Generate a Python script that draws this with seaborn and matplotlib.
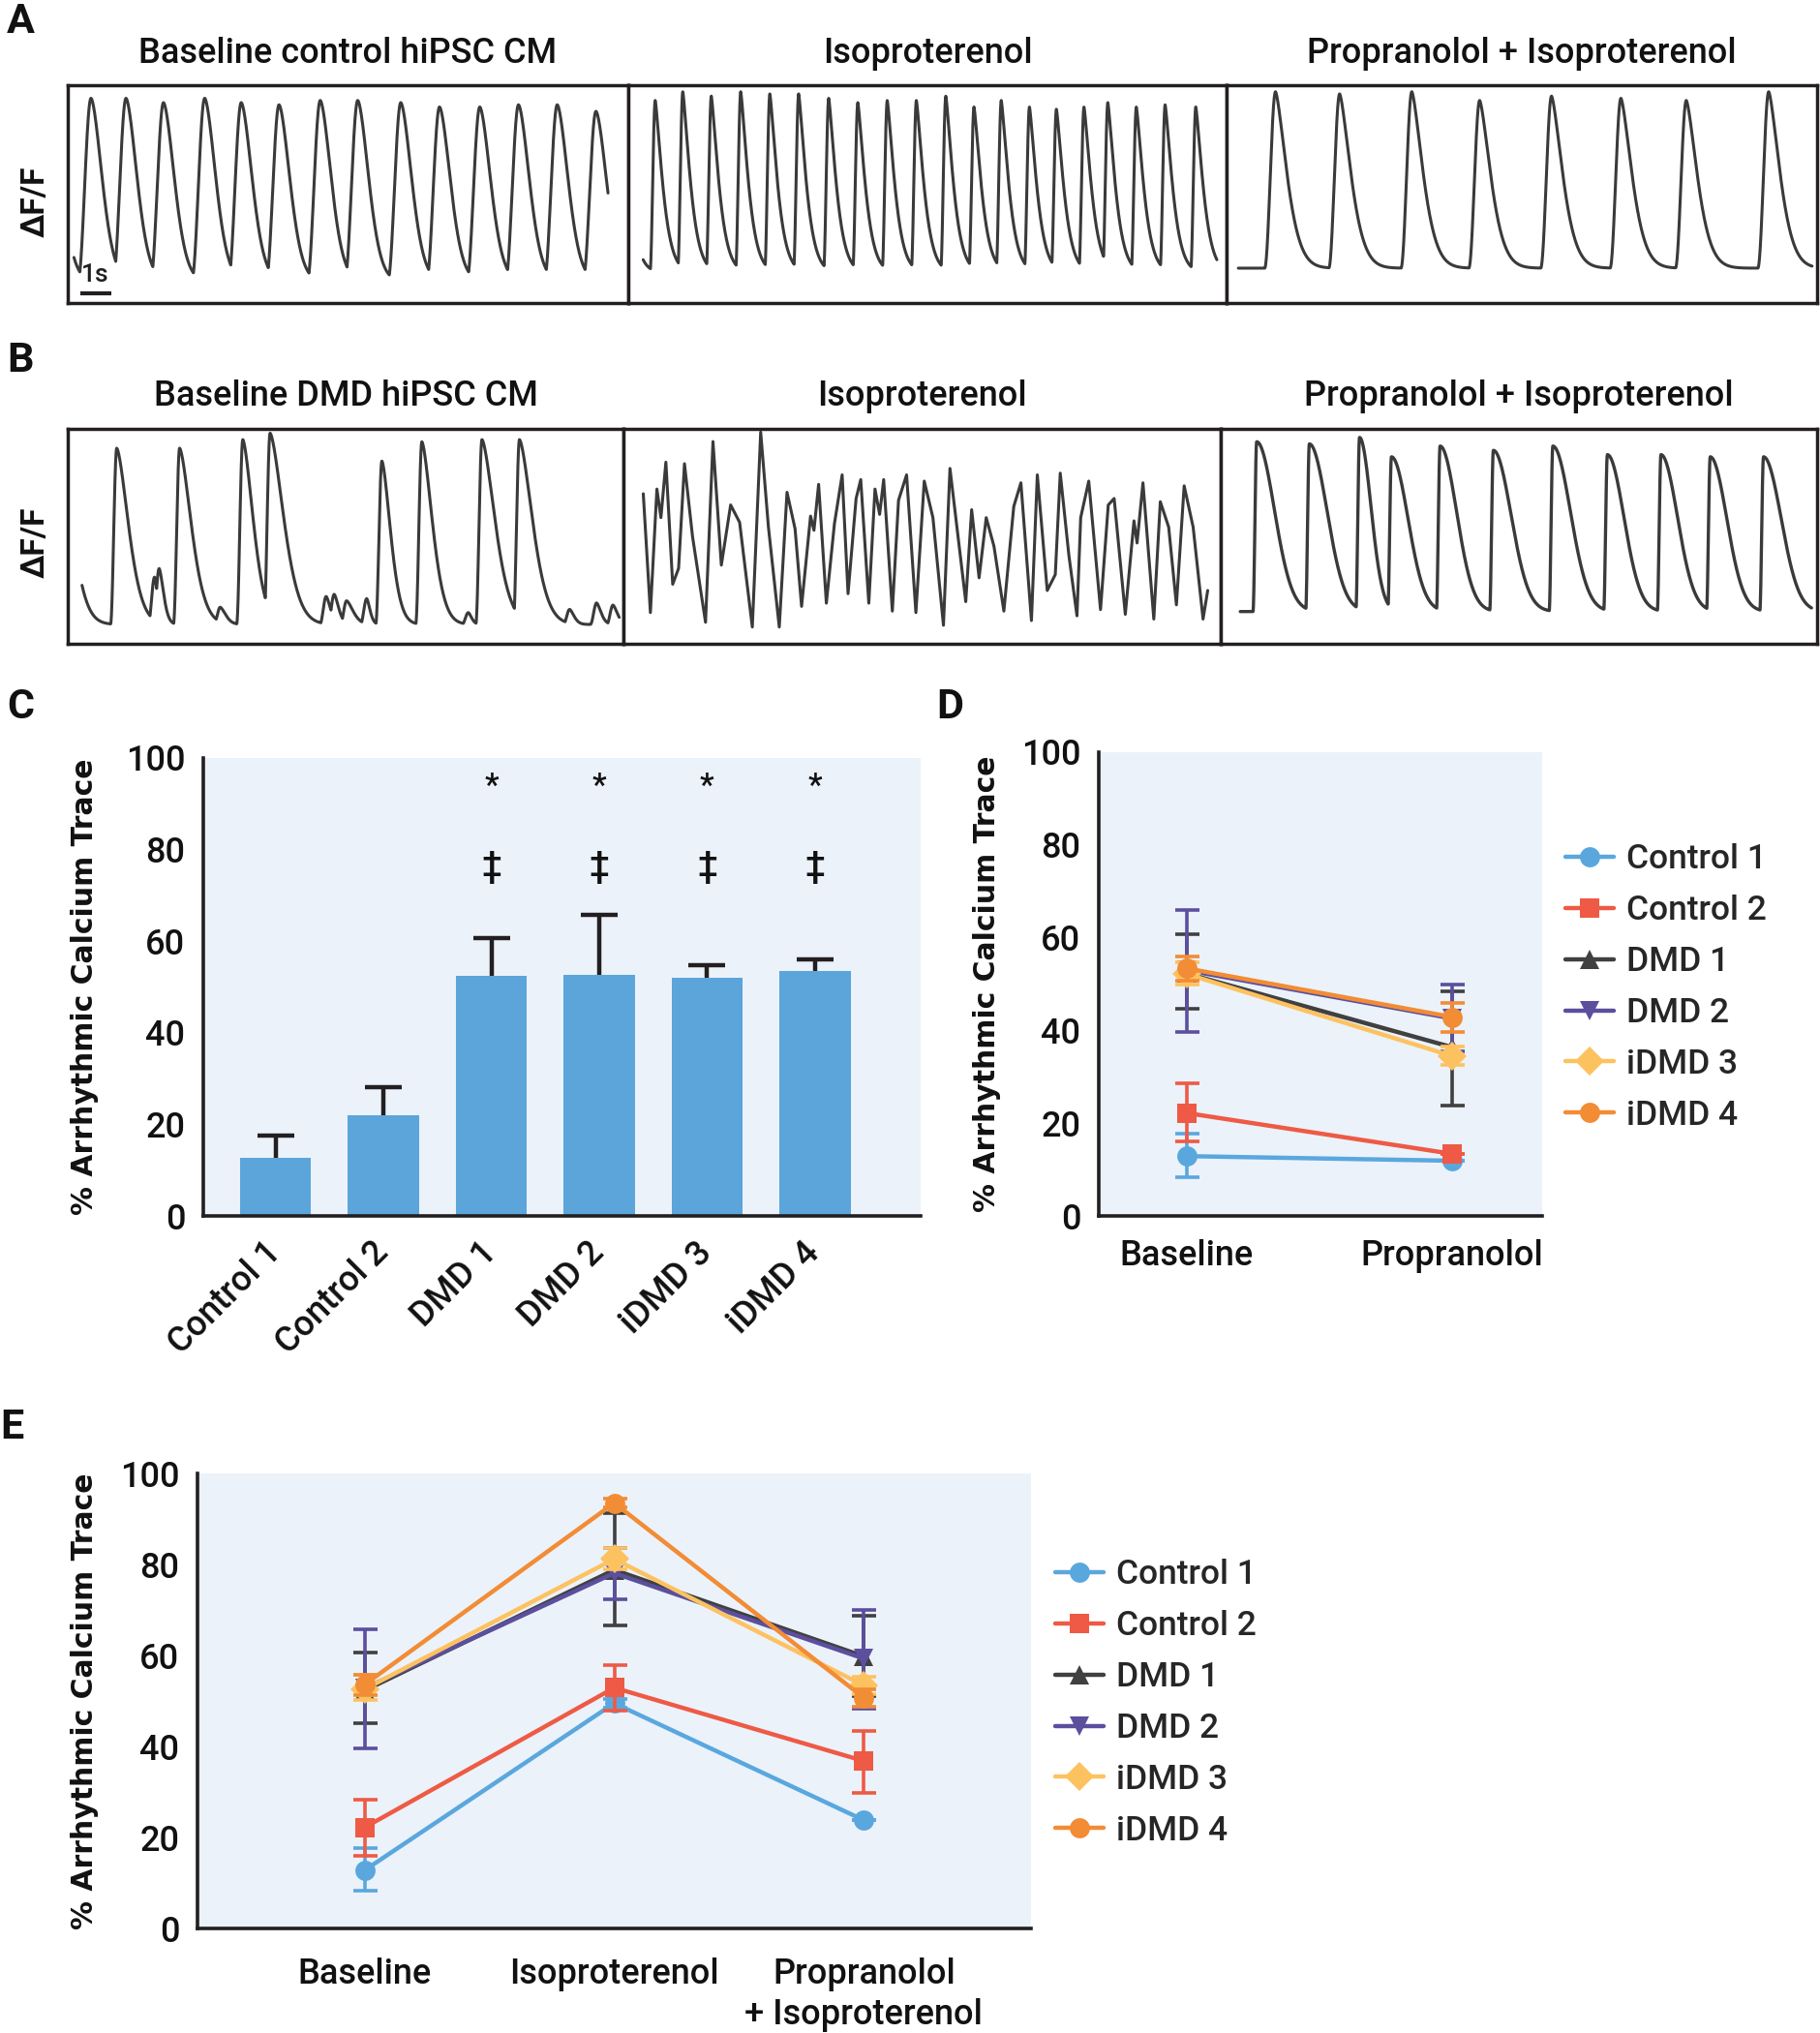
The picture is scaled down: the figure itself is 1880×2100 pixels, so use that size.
import numpy as np
import pandas as pd
import matplotlib
matplotlib.use("Agg")
import matplotlib.pyplot as plt
import seaborn as sns
from matplotlib.lines import Line2D

# ------------------------------------------------------------------ data
# Panel A / B calcium traces: beat peak times (s) and peak level (fraction of box height)
a1_peak_t = [-0.55, 0.75, 1.88, 3.09, 4.42, 5.60, 6.82, 8.15, 9.36, 10.75, 12.00, 13.30, 14.55, 15.80, 17.05]
a1_peak_v = [0.90, 0.94, 0.94, 0.92, 0.94, 0.92, 0.91, 0.93, 0.93, 0.92, 0.90, 0.90, 0.91, 0.91, 0.88]
a1_span = [0.20, 17.44]

a2_peak_t = [-0.20, 0.87, 1.76, 2.68, 3.63, 4.57, 5.50, 6.47, 7.41, 8.36, 9.30, 10.25, 11.16, 12.04,
             12.95, 13.82, 14.71, 15.48, 16.40, 17.33, 18.32]
a2_peak_v = [0.90, 0.93, 0.97, 0.95, 0.97, 0.96, 0.96, 0.94, 0.92, 0.93, 0.93, 0.95, 0.90, 0.93,
             0.90, 0.89, 0.90, 0.92, 0.90, 0.91, 0.90]
a2_span = [0.48, 19.00]

a3_peak_t = [1.58, 3.65, 5.98, 8.17, 10.49, 12.73, 14.84, 17.50]
a3_peak_v = [0.97, 0.96, 0.97, 0.93, 0.95, 0.94, 0.93, 0.97]
a3_span = [0.38, 18.90]

b1_peak_t = [-0.23, 1.58, 2.80, 2.95, 3.61, 4.92, 5.65, 6.53, 8.34, 8.60, 9.00, 9.65, 10.14, 11.43,
             12.93, 13.37, 14.58, 16.20, 17.07, 17.60]
b1_peak_v = [0.89, 0.91, 0.31, 0.35, 0.91, 0.17, 0.95, 0.98, 0.22, 0.23, 0.20, 0.21, 0.85, 0.94,
             0.145, 0.95, 0.95, 0.16, 0.19, 0.18]
b1_decay = [0.54, 0.54, 0.15, 0.20, 0.54, 0.25, 0.48, 0.62, 0.20, 0.20, 0.30, 0.15, 0.40, 0.48,
            0.15, 0.60, 0.60, 0.20, 0.20, 0.20]
b1_span = [0.46, 17.80]

b2_t = [0.64, 0.87, 1.08, 1.21, 1.37, 1.59, 1.78, 1.97, 2.23, 2.65, 2.89, 3.16, 3.46, 3.75, 4.16, 4.43,
        4.68, 5.03, 5.28, 5.54, 5.75, 6.04, 6.15, 6.30, 6.55, 6.81, 7.06, 7.25, 7.51, 7.66, 7.92, 8.12,
        8.27, 8.40, 8.68, 8.88, 9.14, 9.44, 9.71, 9.99, 10.33, 10.54, 11.05, 11.24, 11.48, 11.71, 11.96,
        12.28, 12.60, 12.83, 13.17, 13.36, 13.68, 13.94, 14.10, 14.38, 14.64, 14.76, 15.02, 15.40, 15.65,
        15.84, 16.20, 16.48, 16.58, 16.77, 17.12, 17.33, 17.60, 17.85, 18.10, 18.39, 18.71, 18.86]
b2_v = [0.698, 0.145, 0.720, 0.587, 0.845, 0.277, 0.351, 0.838, 0.499, 0.100, 0.941, 0.366, 0.646,
        0.565, 0.078, 0.985, 0.543, 0.078, 0.705, 0.535, 0.174, 0.594, 0.528, 0.742, 0.189, 0.558,
        0.786, 0.233, 0.676, 0.764, 0.189, 0.720, 0.602, 0.764, 0.152, 0.668, 0.786, 0.145, 0.757,
        0.587, 0.086, 0.816, 0.196, 0.624, 0.307, 0.587, 0.454, 0.152, 0.639, 0.749, 0.108, 0.786,
        0.248, 0.322, 0.794, 0.410, 0.130, 0.587, 0.757, 0.159, 0.646, 0.676, 0.137, 0.572, 0.469,
        0.749, 0.115, 0.661, 0.543, 0.181, 0.735, 0.543, 0.115, 0.248]

b3_peak_t = [1.16, 2.86, 4.48, 5.51, 7.08, 8.80, 10.72, 12.48, 14.21, 15.80, 17.52]
b3_peak_v = [0.94, 0.93, 0.96, 0.87, 0.92, 0.90, 0.92, 0.88, 0.88, 0.87, 0.87]
b3_decay = [0.80, 0.80, 0.52, 0.75, 0.75, 0.80, 0.80, 0.75, 0.75, 0.75, 0.80]
b3_span = [0.63, 19.07]

trace_titles_a = ["Baseline control hiPSC CM", "Isoproterenol", "Propranolol + Isoproterenol"]
trace_titles_b = ["Baseline DMD hiPSC CM", "Isoproterenol", "Propranolol + Isoproterenol"]

# Panel C
c_lines = ["Control 1", "Control 2", "DMD 1", "DMD 2", "iDMD 3", "iDMD 4"]
c_mean = [12.7, 21.9, 52.5, 52.7, 52.1, 53.4]
c_err_top = [17.6, 28.2, 60.6, 65.8, 54.8, 56.0]
c_marks = ["", "", "*", "*", "*", "*"]
c_marks2 = ["", "", "\u2021", "\u2021", "\u2021", "\u2021"]

# Panel D  (mean, lower, upper)
d_conditions = ["Baseline", "Propranolol"]
d_mean = {"Control 1": [12.9, 11.9], "Control 2": [22.2, 13.4], "DMD 1": [52.3, 36.4],
          "DMD 2": [53.0, 42.6], "iDMD 3": [52.2, 34.5], "iDMD 4": [53.4, 42.9]}
d_lo = {"Control 1": [8.4, 11.9], "Control 2": [16.0, 13.4], "DMD 1": [44.6, 23.9],
        "DMD 2": [39.7, 35.4], "iDMD 3": [49.8, 32.5], "iDMD 4": [50.8, 39.7]}
d_hi = {"Control 1": [17.8, 11.9], "Control 2": [28.5, 13.4], "DMD 1": [60.7, 48.4],
        "DMD 2": [65.9, 49.8], "iDMD 3": [54.7, 36.5], "iDMD 4": [55.9, 46.0]}

# Panel E
e_conditions = ["Baseline", "Isoproterenol", "Propranolol\n+ Isoproterenol"]
e_mean = {"Control 1": [12.8, 49.5, 23.8], "Control 2": [22.2, 52.9, 36.8], "DMD 1": [52.3, 78.8, 59.8],
          "DMD 2": [52.8, 78.1, 59.3], "iDMD 3": [52.6, 81.2, 53.4], "iDMD 4": [53.6, 93.5, 50.7]}
e_lo = {"Control 1": [8.3, 48.5, 23.8], "Control 2": [16.0, 47.9, 29.8], "DMD 1": [45.2, 66.5, 51.0],
        "DMD 2": [39.6, 72.3, 48.2], "iDMD 3": [50.2, 79.0, 51.4], "iDMD 4": [51.2, 92.5, 48.7]}
e_hi = {"Control 1": [17.7, 50.5, 23.8], "Control 2": [28.3, 57.8, 43.5], "DMD 1": [60.6, 91.3, 68.7],
        "DMD 2": [65.8, 83.6, 69.9], "iDMD 3": [55.8, 83.6, 55.4], "iDMD 4": [55.8, 94.5, 52.5]}

series = ["Control 1", "Control 2", "DMD 1", "DMD 2", "iDMD 3", "iDMD 4"]
colors = {"Control 1": "#5AA7DE", "Control 2": "#EE5A45", "DMD 1": "#404040",
          "DMD 2": "#5B4F9E", "iDMD 3": "#FDC260", "iDMD 4": "#F28C35"}
markers = {"Control 1": "o", "Control 2": "s", "DMD 1": "^", "DMD 2": "v", "iDMD 3": "D", "iDMD 4": "o"}

# ------------------------------------------------------------------ style
sns.set_style("white")
plt.rcParams["font.family"] = ["Roboto", "DejaVu Sans"]
plt.rcParams["font.weight"] = "medium"
INK = "#231f20"
BG = "#EBF2FA"
BAR = "#5BA5DB"
TRACE = "#3a3a3a"

W, H = 1880, 2100
fig = plt.figure(figsize=(W / 100, H / 100), dpi=100)


def add_ax(x0, y0, x1, y1):
    return fig.add_axes([x0 / W, 1 - y1 / H, (x1 - x0) / W, (y1 - y0) / H])


def calcium_trace(t, peak_t, peak_v, base, rise, tau, p):
    tau = np.broadcast_to(np.asarray(tau, float), (len(peak_t),))
    sig = np.full_like(t, base)
    for pt, pv, ta in zip(peak_t, peak_v, tau):
        s = t - (pt - rise)
        k = np.zeros_like(t)
        r = (s >= 0) & (s < rise)
        k[r] = 0.5 - 0.5 * np.cos(np.pi * s[r] / rise)
        d = s >= rise
        k[d] = np.exp(-((s[d] - rise) / ta) ** p)
        sig = np.maximum(sig, base + (pv - base) * k)
    return sig


def trace_box(ax, width_s):
    ax.set_xlim(0, width_s)
    ax.set_ylim(0, 1)
    ax.set_xticks([])
    ax.set_yticks([])
    ax.set_facecolor("white")
    for sp in ax.spines.values():
        sp.set_visible(True)
        sp.set_linewidth(2.5)
        sp.set_color(INK)


def draw_trace(ax, t, y, lw=2.2):
    sns.lineplot(x=t, y=y, ax=ax, color=TRACE, lw=lw, estimator=None, sort=False)


PX_PER_S = 32.0
title_fs = 26

# ---- panel A
a_edges = [70, 649, 1267, 1877]
a_top, a_bot = 88, 313
a_specs = [
    (a1_peak_t, a1_peak_v, a1_span, 0.10, 0.42, 0.50, 1.7),
    (a2_peak_t, a2_peak_v, a2_span, 0.14, 0.17, 0.33, 1.3),
    (a3_peak_t, a3_peak_v, a3_span, 0.16, 0.35, 0.51, 1.48),
]
for i in range(3):
    ax = add_ax(a_edges[i], a_top, a_edges[i + 1], a_bot)
    wsec = (a_edges[i + 1] - a_edges[i]) / PX_PER_S
    trace_box(ax, wsec)
    pt, pv, span, base, rise, tau, p = a_specs[i]
    t = np.linspace(span[0], span[1], 4000)
    draw_trace(ax, t, calcium_trace(t, pt, pv, base, rise, tau, p))
    ax.text(0.5, 1 + 33 / (a_bot - a_top), trace_titles_a[i], transform=ax.transAxes,
            ha="center", va="center", fontsize=title_fs, color="#111")
    if i == 0:
        ax.plot([0.41, 1.41], [0.044, 0.044], color=INK, lw=3, solid_capstyle="butt")
        ax.text(0.88, 0.13, "1s", ha="center", va="center", fontsize=19, color=INK)

# ---- panel B
b_edges = [70, 644, 1261, 1877]
b_top, b_bot = 443, 665
for i in range(3):
    ax = add_ax(b_edges[i], b_top, b_edges[i + 1], b_bot)
    wsec = (b_edges[i + 1] - b_edges[i]) / PX_PER_S
    trace_box(ax, wsec)
    if i == 0:
        t = np.linspace(b1_span[0], b1_span[1], 4000)
        draw_trace(ax, t, calcium_trace(t, b1_peak_t, b1_peak_v, 0.09, 0.2, b1_decay, 1.6))
    elif i == 1:
        draw_trace(ax, np.array(b2_t), np.array(b2_v))
    else:
        t = np.linspace(b3_span[0], b3_span[1], 4000)
        draw_trace(ax, t, calcium_trace(t, b3_peak_t, b3_peak_v, 0.15, 0.12, b3_decay, 2.0), lw=2.4)
    ax.text(0.5, 1 + 33 / (b_bot - b_top), trace_titles_b[i], transform=ax.transAxes,
            ha="center", va="center", fontsize=title_fs, color="#111")

for yc in (208, 560):
    fig.text(37 / W, 1 - yc / H, "\u0394F/F", rotation=90, ha="center", va="center",
             fontsize=24, fontweight="bold", color="#111")


# ---- shared axis styling
def style_axis(ax, ypad=5):
    ax.set_facecolor(BG)
    ax.set_ylim(0, 100)
    ax.set_yticks([0, 20, 40, 60, 80, 100])
    for s in ("top", "right"):
        ax.spines[s].set_visible(False)
    for s in ("left", "bottom"):
        ax.spines[s].set_linewidth(2.6)
        ax.spines[s].set_color(INK)
    ax.tick_params(axis="both", direction="out", length=8.5, width=2.6, color=INK,
                   labelsize=26, labelcolor="#111")
    ax.tick_params(axis="y", pad=ypad)
    ax.grid(False)


def set_ylab(ax, xc, yc):
    ax.set_ylabel("% Arrhythmic Calcium Trace", fontsize=21.5, fontweight="bold",
                  family=["DejaVu Sans"], color="#111", va="center")
    ax.yaxis.set_label_coords(xc / W, 1 - yc / H, transform=fig.transFigure)


# ---- panel C
axC = add_ax(210, 783, 951, 1256)
dfc = pd.DataFrame({"line": c_lines, "value": c_mean})
sns.barplot(data=dfc, x="line", y="value", color=BAR, saturation=1, width=0.66,
            errorbar=None, linewidth=0, ax=axC)
style_axis(axC)
xc = np.arange(len(c_lines))
axC.vlines(xc, c_mean, c_err_top, color=INK, lw=3.2, zorder=3)
axC.plot(xc, c_err_top, ls="none", marker="_", ms=27, mew=3.2, color=INK, zorder=3)
for i in range(len(c_lines)):
    if c_marks[i]:
        axC.text(i, 93.7, c_marks[i], ha="center", va="center", fontsize=24, color="#111")
        axC.text(i, 76.2, c_marks2[i], ha="center", va="center", fontsize=26, color="#111")
axC.set_xlim(-0.67, 5.98)
axC.set_xlabel("")
axC.set_xticks(xc)
axC.set_xticklabels(c_lines, rotation=45, ha="right", va="center", rotation_mode="anchor", fontsize=26)
axC.tick_params(axis="x", pad=15)
set_ylab(axC, 88, 1019)


# ---- panels D & E
def line_panel(ax, pos, means, los, his):
    for z, name in enumerate(series):
        m = np.array(means[name]); lo = np.array(los[name]); hi = np.array(his[name])
        ax.errorbar(pos, m, yerr=[m - lo, hi - m], fmt="none", ecolor=colors[name], elinewidth=2.6,
                    capsize=9, capthick=2.6, zorder=3 + z)
        sns.lineplot(x=pos, y=m, ax=ax, color=colors[name], marker=markers[name], markersize=15,
                     markeredgewidth=0, lw=3.2, legend=False, zorder=3.5 + z)


def panel_legend(x_left, y_mid):
    handles = [Line2D([0], [0], color=colors[n], marker=markers[n], ms=15, mew=0, lw=3.2) for n in series]
    fig.legend(handles, series, loc="center left", bbox_to_anchor=(x_left / W, 1 - y_mid / H),
               frameon=False, fontsize=25.5, handlelength=1.4, handletextpad=0.37,
               labelspacing=0.56, borderpad=0, borderaxespad=0)


axD = add_ax(1135, 777, 1593, 1256)
style_axis(axD)
line_panel(axD, [0, 1], d_mean, d_lo, d_hi)
axD.set_xlim(-0.33, 1.34)
axD.set_xticks([0, 0.5, 1])
axD.set_xticklabels([d_conditions[0], "", d_conditions[1]], fontsize=26)
axD.tick_params(axis="x", pad=9)
set_ylab(axD, 1019, 1016)
panel_legend(1617, 1020)

axE = add_ax(204, 1522, 1065, 1992)
style_axis(axE)
line_panel(axE, [0, 1, 2], e_mean, e_lo, e_hi)
axE.set_xlim(-0.67, 2.67)
axE.set_xticks([0, 1, 2])
axE.set_xticklabels(e_conditions, fontsize=26, linespacing=1.25, va="top")
axE.tick_params(axis="x", pad=13)
set_ylab(axE, 88, 1757)
panel_legend(1090, 1759)

# ---- panel letters
for letter, (x, y) in {"A": (7, 23), "B": (7, 372), "C": (7, 731), "D": (967, 731), "E": (0, 1474)}.items():
    fig.text(x / W, 1 - y / H, letter, ha="left", va="center", fontsize=31, fontweight="bold", color="#111")

fig.savefig("out.png", dpi=100)
